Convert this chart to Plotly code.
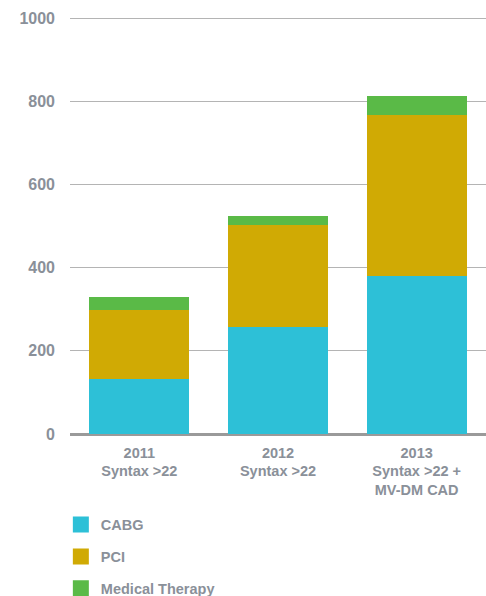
import plotly.graph_objects as go

categories = ["2011<br>Syntax >22", "2012<br>Syntax >22", "2013<br>Syntax >22 +<br>MV-DM CAD"]
cabg = [133, 257, 381]
pci = [166, 246, 386]
medical = [31, 21, 45]
y_ticks = [0, 200, 400, 600, 800, 1000]

series = [
    ("CABG", cabg, "#2dc0d7"),
    ("PCI", pci, "#d0aa04"),
    ("Medical Therapy", medical, "#5aba47"),
]

TEXT = "#8a9099"
FONT = "Liberation Sans, Arial, sans-serif"

fig = go.Figure()
for i, (name, vals, col) in enumerate(series):
    fig.add_trace(go.Bar(x=categories, y=vals, name=name, marker_color=col,
                         marker_line_width=0, showlegend=False, legendgroup=f"g{i}"))
    fig.add_trace(go.Scatter(x=[None], y=[None], mode="markers", name=name,
                             legendgroup=f"g{i}",
                             marker=dict(symbol="square", size=16, color=col)))

fig.update_layout(
    width=486, height=596,
    margin=dict(l=70, r=0, t=9.7, b=161.5, autoexpand=False),
    barmode="stack", bargap=0.28,
    plot_bgcolor="white", paper_bgcolor="white",
    font=dict(family=FONT, color=TEXT, weight="bold"),
    showlegend=True,
    legend=dict(orientation="v", x=-0.022, xanchor="left", y=-0.176, yanchor="top",
                font=dict(size=14.5, color=TEXT, family=FONT, weight="bold"),
                tracegroupgap=10, itemsizing="trace", traceorder="grouped"),
    xaxis=dict(showgrid=False, showline=False, ticks="", zeroline=False,
               tickfont=dict(size=14.5, color=TEXT, family=FONT, weight="bold"),
               ticklabelstandoff=8),
    yaxis=dict(range=[0, 1020], tickvals=y_ticks, showgrid=True, gridcolor="#b4b4b4",
               gridwidth=1, zeroline=True, zerolinecolor="#9a9a9a", zerolinewidth=2.5,
               showline=False, ticks="", ticklabelstandoff=14,
               tickfont=dict(size=16, color=TEXT, family=FONT, weight="bold")),
)

fig.write_html("out.html", config={"displayModeBar": False},
               post_script="document.body.style.margin='0';document.body.style.overflow='hidden';")
